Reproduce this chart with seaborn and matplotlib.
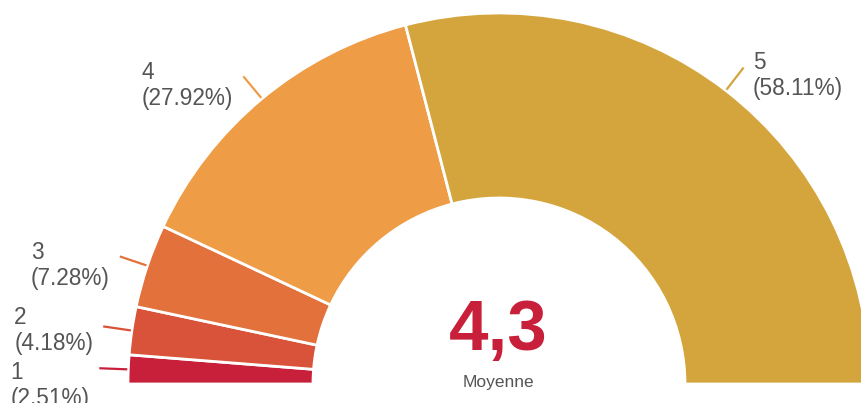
import numpy as np
import seaborn as sns
import matplotlib.pyplot as plt

# data
ratings = ["1", "2", "3", "4", "5"]
shares = [2.51, 4.18, 7.28, 27.92, 58.11]
mean_label = "4,3"
mean_caption = "Moyenne"
colors = sns.color_palette(["#C8203A", "#D9523A", "#E2713C", "#EE9C45", "#D4A53C"])

# layout (pixels, y measured upward)
W, H = 862, 403
cx, cy = 499, 19
R_out, R_in = 371, 186
label_dy = [17, 4, 9, 9, 8]   # downward nudge of each label block

sns.set_theme(style="white")
plt.rcParams["font.family"] = ["Liberation Sans", "DejaVu Sans"]

fig = plt.figure(figsize=(W / 100, H / 100), dpi=100)
ax = fig.add_axes([0, 0, 1, 1])

# half donut: add an invisible filler for the lower half
wedges, _ = ax.pie(shares + [100], colors=list(colors) + ["none"],
                   radius=R_out, center=(cx, cy), startangle=180,
                   counterclock=False,
                   wedgeprops=dict(width=R_out - R_in, edgecolor="white", linewidth=2))
wedges[-1].set_visible(False)

# leader lines + labels
for w, lab, pct, col, dy in zip(wedges[:-1], ratings, shares, colors, label_dy):
    ang = np.deg2rad((w.theta1 + w.theta2) / 2)
    x0, y0 = cx + (R_out + 1) * np.cos(ang), cy + (R_out + 1) * np.sin(ang)
    x1, y1 = cx + (R_out + 29) * np.cos(ang), cy + (R_out + 29) * np.sin(ang)
    ax.plot([x0, x1], [y0, y1], color=col, lw=1.6, solid_capstyle="butt")
    if np.cos(ang) < 0:
        tx, ha = x1 - 10, "right"
    else:
        tx, ha = x1 + 9, "left"
    ax.text(tx, y1 - dy, f"{lab}\n({pct:.2f}%)", ha=ha, va="center",
            multialignment="left", fontsize=16.3, color="#555555",
            linespacing=1.15)

# centre text
ax.text(cx - 1, 403 - 350, mean_label, ha="center", va="baseline",
        fontsize=51, fontweight="bold", color="#C8203A")
ax.text(cx - 1, 403 - 387, mean_caption, ha="center", va="baseline",
        fontsize=12.5, color="#555555")

ax.set_xlim(0, W)
ax.set_ylim(0, H)
ax.set_aspect("equal")
ax.axis("off")

fig.savefig("out.png", dpi=100)
